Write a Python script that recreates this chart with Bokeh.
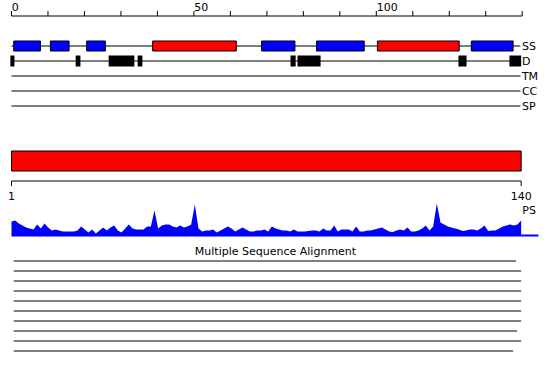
from bokeh.plotting import figure
from bokeh.models import ColumnDataSource, Range1d
from bokeh.embed import file_html
from bokeh.resources import INLINE
from bokeh.core.properties import value

# ---------------- data ----------------
SEQ_LEN = 140
RULER_TICKS = [0, 10, 20, 30, 40, 50, 60, 70, 80, 90, 100, 110, 120, 130, 140]
RULER_LABELS = [0, 50, 100]

# secondary structure: start, end (residues), kind (H = helix, E = strand)
SS_START = [1.6, 11.6, 21.5, 39.5, 69.2, 84.2, 100.8, 126.4]
SS_END = [8.9, 16.7, 26.6, 62.3, 78.3, 97.2, 123.1, 137.8]
SS_KIND = ["E", "E", "E", "H", "E", "E", "H", "E"]

# disordered regions
D_START = [0.7, 18.5, 27.5, 35.4, 77.1, 79.0, 122.9, 136.8]
D_END = [1.8, 19.8, 34.5, 36.7, 78.5, 85.3, 125.1, 140.0]

TRACKS = ["SS", "D", "TM", "CC", "SP"]

# domain bar
DOMAIN_START = [1]
DOMAIN_END = [140]

# PS profile (one value per residue)
PS = [15, 16, 13, 11, 9, 8, 7, 12, 8, 13,
      9, 6, 7, 6, 5, 5, 5, 5, 6, 10,
      7, 4, 7, 3, 6, 9, 6, 9, 11, 6,
      4, 8, 12, 8, 7, 7, 7, 10, 10, 26,
      8, 11, 12, 12, 10, 9, 11, 9, 10, 12,
      32, 8, 5, 6, 6, 7, 4, 6, 8, 10,
      8, 5, 7, 9, 7, 5, 5, 6, 6, 7,
      5, 10, 8, 7, 6, 6, 5, 7, 5, 5,
      5, 5.5, 6, 6, 5, 8, 6, 6, 11, 5,
      7, 7, 7, 5, 10, 5, 5, 6, 6, 7,
      8, 9, 7, 5, 4.5, 6, 7, 6, 9, 5,
      5, 6, 8, 11, 6, 10, 33, 14, 12, 10,
      9, 8, 7, 5.5, 6, 7, 7, 6, 8, 11,
      5.5, 6, 6, 8, 10, 11, 12, 11, 12, 16]
RESIDUES = list(range(1, SEQ_LEN + 1))

# multiple sequence alignment coverage
MSA_START = [1.6, 1.6, 1.6, 1.6, 1.6, 1.6, 1.6, 1.6, 1.6, 1.6]
MSA_END = [138.6, 140, 140, 140, 140, 140, 140, 138.9, 140, 137.8]

# ---------------- layout (screen rows) ----------------
RULER_Y = 15.5
TRACK_Y = [45.5, 60.5, 75.5, 90.5, 105.5]
BOX_H = {"SS": (40.5, 50.5), "D": (55.0, 66.0)}
DOMAIN_Y = (150.5, 170.5)
AXIS_Y = 180.5
PS_BASE_ROW = 236
MSA_Y0, MSA_DY = 260.5, 10.0
TXT_SHIFT = -4.5
FONT = value("DejaVu Sans")
FS = "11px"

p = figure(width=550, height=380, output_backend="svg", toolbar_location=None,
           x_axis_location=None, y_axis_location=None, min_border=0,
           x_range=Range1d(-2.0, 148.0), y_range=Range1d(380, 0))
p.outline_line_color = None
p.grid.visible = False
p.background_fill_color = "white"
p.border_fill_color = "white"
p.extra_x_ranges = {"ruler": Range1d(-3.015, 147.75)}
p.extra_y_ranges = {"ps": Range1d(-(380 - PS_BASE_ROW), PS_BASE_ROW)}

# ---- top ruler ----
p.segment(x0=[RULER_TICKS[0]], x1=[RULER_TICKS[-1]], y0=[RULER_Y], y1=[RULER_Y],
          x_range_name="ruler", line_color="black", line_width=1)
p.segment(x0=RULER_TICKS, x1=RULER_TICKS, y0=[RULER_Y - 5] * len(RULER_TICKS),
          y1=[RULER_Y] * len(RULER_TICKS), x_range_name="ruler",
          line_color="black", line_width=1)
p.text(x=[t + 0.1 for t in RULER_LABELS], y=[10.5 + TXT_SHIFT] * len(RULER_LABELS),
       text=[str(t) for t in RULER_LABELS], x_range_name="ruler",
       text_font=FONT, text_font_size=FS, text_align="left",
       text_baseline="alphabetic", text_color="black")

# ---- track lines and labels ----
p.segment(x0=[1] * len(TRACKS), x1=[139.8] * len(TRACKS), y0=TRACK_Y, y1=TRACK_Y,
          line_color="black", line_width=1)
p.text(x=[140.2] * len(TRACKS), y=[y + 4.5 + TXT_SHIFT for y in TRACK_Y], text=TRACKS,
       text_font=FONT, text_font_size=FS, text_align="left",
       text_baseline="alphabetic", text_color="black")

ss_src = ColumnDataSource(dict(
    left=SS_START, right=SS_END,
    color=["red" if k == "H" else "blue" for k in SS_KIND]))
p.quad(left="left", right="right", top=BOX_H["SS"][0], bottom=BOX_H["SS"][1],
       source=ss_src, fill_color="color", line_color="black", line_width=1)

d_src = ColumnDataSource(dict(left=D_START, right=D_END))
p.quad(left="left", right="right", top=BOX_H["D"][0], bottom=BOX_H["D"][1],
       source=d_src, fill_color="black", line_color=None)

# ---- domain bar ----
p.quad(left=DOMAIN_START, right=DOMAIN_END, top=DOMAIN_Y[0], bottom=DOMAIN_Y[1],
       fill_color="red", line_color="black", line_width=1)

# ---- domain axis ----
p.segment(x0=[1], x1=[SEQ_LEN], y0=[AXIS_Y], y1=[AXIS_Y], line_color="black", line_width=1)
p.segment(x0=[1, SEQ_LEN], x1=[1, SEQ_LEN], y0=[AXIS_Y, AXIS_Y], y1=[AXIS_Y + 5, AXIS_Y + 5],
          line_color="black", line_width=1)
p.text(x=[1, SEQ_LEN], y=[199.5 + TXT_SHIFT] * 2, text=["1", str(SEQ_LEN)],
       text_font=FONT, text_font_size=FS, text_align="center",
       text_baseline="alphabetic", text_color="black")
p.text(x=[140.3], y=[214.8 + TXT_SHIFT], text=["PS"], text_font=FONT, text_font_size=FS,
       text_align="left", text_baseline="alphabetic", text_color="black")

# ---- PS profile ----
p.varea(x=RESIDUES, y1=[0] * SEQ_LEN, y2=PS, y_range_name="ps", fill_color="blue")
p.segment(x0=[SEQ_LEN], x1=[144.7], y0=[1], y1=[1], y_range_name="ps",
          line_color="blue", line_width=2)

# ---- MSA ----
p.text(x=[73.0], y=[255.0 + TXT_SHIFT], text=["Multiple Sequence Alignment"], text_font=FONT,
       text_font_size=FS, text_align="center", text_baseline="alphabetic",
       text_color="black")
msa_y = [MSA_Y0 + i * MSA_DY for i in range(len(MSA_START))]
p.segment(x0=MSA_START, x1=MSA_END, y0=msa_y, y1=msa_y, line_color="black", line_width=1)

open("out.html", "w").write(file_html(p, INLINE))
